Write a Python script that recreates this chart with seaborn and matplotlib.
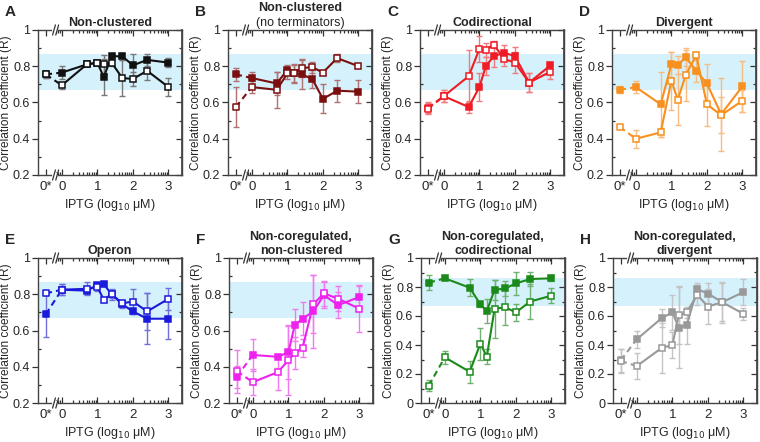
import numpy as np
import pandas as pd
import matplotlib
matplotlib.use("Agg")
import matplotlib.pyplot as plt
from matplotlib.ticker import FixedLocator, NullFormatter
import seaborn as sns

# x positions: first entry is the "0*" (no IPTG) point placed left of the axis break
x_pos = [-0.45, 0.0, 0.7, 1.0, 1.18, 1.4, 1.7, 2.0, 2.4, 3.0]
x_ticks = [-0.45, 0, 1, 2, 3]
x_ticklabels = ["0*", "0", "1", "2", "3"]

letters = ["A", "B", "C", "D", "E", "F", "G", "H"]
titles = ["Non-clustered", "Non-clustered", "Codirectional", "Divergent",
          "Operon", "Non-coregulated,\nnon-clustered", "Non-coregulated,\ncodirectional",
          "Non-coregulated,\ndivergent"]
subtitles = ["", "(no terminators)", "", "", "", "", "", ""]
colors = ["#111111", "#7a0f10", "#ee1c24", "#f7901e", "#1a1adb", "#ee22ee", "#1b8a1b", "#999999"]
err_colors = ["#777777", "#b07070", "#f27a7e", "#f8bb80", "#7070d8", "#f07af0", "#70b070", "#c4c4c4"]
y_bottoms = [0.2, 0.2, 0.2, 0.2, 0.2, 0.2, 0.0, 0.0]

filled = [
    [0.755, 0.765, 0.81, 0.82, 0.74, 0.855, 0.855, 0.805, 0.835, 0.82],
    [0.755, 0.735, 0.705, 0.78, 0.76, 0.755, 0.73, 0.62, 0.665, 0.66],
    [0.57, 0.635, 0.575, 0.685, 0.80, 0.855, 0.875, 0.855, 0.71, 0.805],
    [0.67, 0.685, 0.59, 0.81, 0.805, 0.85, 0.775, 0.705, 0.535, 0.69],
    [0.69, 0.825, 0.82, 0.85, 0.855, 0.80, 0.745, 0.705, 0.665, 0.665],
    [0.345, 0.465, 0.455, 0.48, 0.63, 0.665, 0.705, 0.795, 0.74, 0.785],
    [0.83, 0.86, 0.795, 0.68, 0.635, 0.78, 0.79, 0.825, 0.855, 0.86],
    [0.295, 0.44, 0.585, 0.625, 0.52, 0.535, 0.785, 0.755, 0.695, 0.765],
]
filled_err = [
    [0.02, 0.035, 0.01, 0.01, 0.1, 0.02, 0.02, 0.06, 0.035, 0.025],
    [0.035, 0.035, 0.065, 0.025, 0.045, 0.08, 0.05, 0.08, 0.06, 0.065],
    [0.03, 0.035, 0.035, 0.075, 0.05, 0.06, 0.04, 0.05, 0.05, 0.02],
    [0.02, 0.035, 0.18, 0.07, 0.05, 0.05, 0.06, 0.11, 0.2, 0.14],
    [0.125, 0.03, 0.015, 0.01, 0.01, 0.02, 0.02, 0.015, 0.14, 0.11],
    [0.06, 0.09, 0.01, 0.15, 0.09, 0.09, 0.2, 0.07, 0.07, 0.06],
    [0.05, 0.01, 0.06, 0.02, 0.08, 0.07, 0.05, 0.08, 0.05, 0.02],
    [0.08, 0.06, 0.06, 0.12, 0.28, 0.13, 0.04, 0.07, 0.13, 0.09],
]
open_vals = [
    [0.755, 0.695, 0.81, 0.82, 0.81, 0.82, 0.735, 0.73, 0.775, 0.685],
    [0.575, 0.685, 0.67, 0.76, 0.76, 0.79, 0.795, 0.765, 0.845, 0.80],
    [0.565, 0.635, 0.745, 0.895, 0.89, 0.92, 0.84, 0.82, 0.71, 0.77],
    [0.465, 0.40, 0.435, 0.72, 0.615, 0.75, 0.86, 0.59, 0.53, 0.61],
    [0.805, 0.825, 0.83, 0.84, 0.77, 0.80, 0.75, 0.76, 0.705, 0.775],
    [0.375, 0.315, 0.37, 0.435, 0.475, 0.505, 0.745, 0.805, 0.775, 0.72],
    [0.12, 0.315, 0.215, 0.41, 0.32, 0.65, 0.66, 0.625, 0.70, 0.74],
    [0.29, 0.255, 0.38, 0.40, 0.605, 0.625, 0.745, 0.665, 0.695, 0.615],
]
open_err = [
    [0.02, 0.02, 0.01, 0.01, 0.05, 0.02, 0.1, 0.04, 0.05, 0.05],
    [0.11, 0.035, 0.1, 0.03, 0.05, 0.05, 0.03, 0.01, 0.02, 0.01],
    [0.03, 0.035, 0.145, 0.07, 0.04, 0.02, 0.04, 0.06, 0.05, 0.04],
    [0.01, 0.05, 0.025, 0.16, 0.14, 0.14, 0.02, 0.12, 0.1, 0.06],
    [0.01, 0.03, 0.035, 0.02, 0.01, 0.03, 0.02, 0.07, 0.1, 0.06],
    [0.12, 0.07, 0.1, 0.19, 0.09, 0.05, 0.16, 0.07, 0.07, 0.13],
    [0.04, 0.045, 0.075, 0.11, 0.05, 0.2, 0.12, 0.06, 0.12, 0.05],
    [0.08, 0.09, 0.17, 0.09, 0.2, 0.04, 0.07, 0.12, 0.14, 0.04],
]
band = (0.67, 0.865)

sns.set_theme(style="ticks")
plt.rcParams["font.family"] = ["Liberation Sans", "DejaVu Sans"]

fig = plt.figure(figsize=(7.6, 4.42), dpi=100)
W, H = 760.0, 442.0
lefts = [38, 228, 420, 612, 38, 229, 421, 613]
tops = [30, 30, 30, 30, 258, 258, 258, 258]
ax_w, ax_h = 144, 145

minor_x = [np.log10(k) + d for d in (-1, 0, 1, 2) for k in range(2, 10)]
minor_x = [m for m in minor_x if -0.16 < m < 3.05]

for i in range(8):
    ax = fig.add_axes([lefts[i] / W, 1 - (tops[i] + ax_h) / H, ax_w / W, ax_h / H])
    c = colors[i]
    ec = err_colors[i]
    ax.axhspan(band[0], band[1], color="#d5f1fb", lw=0, zorder=0)

    for vals, errs, face in [(filled[i], filled_err[i], c), (open_vals[i], open_err[i], "white")]:
        df = pd.DataFrame({"x": x_pos, "y": vals, "e": errs})
        ax.errorbar(df["x"], df["y"], yerr=df["e"], fmt="none", ecolor=ec,
                    elinewidth=1.0, capsize=2, capthick=1.0, zorder=2)
        # dashed link across the axis break
        ax.plot(df["x"][:2], df["y"][:2], color=c, lw=1.5, ls=(0, (3, 2)), zorder=3)
        sns.lineplot(data=df.iloc[1:], x="x", y="y", ax=ax, color=c, lw=1.5,
                     marker="s", markersize=4.5, markerfacecolor=face,
                     markeredgecolor=c, markeredgewidth=1.1, zorder=4)
        sns.scatterplot(data=df.iloc[:1], x="x", y="y", ax=ax, marker="s", s=22,
                        facecolor=face, edgecolor=c, linewidth=1.1, zorder=4)

    ax.set_xlim(-0.67, 3.38)
    ax.set_ylim(y_bottoms[i], 1.0)
    ax.set_xticks(x_ticks)
    ax.set_xticklabels(x_ticklabels)
    ax.xaxis.set_minor_locator(FixedLocator(minor_x))
    if y_bottoms[i] == 0:
        yt = [0, 0.2, 0.4, 0.6, 0.8, 1]
        ylab = ["0", "0.2", "0.4", "0.6", "0.8", "1"]
        ymin = list(np.arange(0.1, 1.0, 0.2))
    else:
        yt = [0.2, 0.4, 0.6, 0.8, 1]
        ylab = ["0.2", "0.4", "0.6", "0.8", "1"]
        ymin = list(np.arange(0.3, 1.0, 0.2))
    ax.set_yticks(yt)
    ax.set_yticklabels(ylab)
    ax.yaxis.set_minor_locator(FixedLocator(ymin))

    ax.tick_params(axis="x", which="both", direction="in", top=True, bottom=True,
                   labelsize=9.5, color="#333333", width=0.9, pad=4)
    ax.tick_params(axis="y", which="major", direction="out", right=False,
                   labelsize=9, color="#333333", width=0.9, pad=1.5, length=4)
    ax.tick_params(axis="y", which="minor", direction="in", right=False,
                   color="#333333", width=0.9, length=2.5)
    ax.tick_params(axis="x", which="major", length=4)
    ax.tick_params(axis="x", which="minor", length=2.5)

    # inward ticks on the right side
    sec = ax.secondary_yaxis("right")
    sec.set_yticks(yt)
    sec.yaxis.set_minor_locator(FixedLocator(ymin))
    sec.yaxis.set_major_formatter(NullFormatter())
    sec.tick_params(which="both", direction="in", color="#333333", width=0.9)
    sec.tick_params(which="major", length=4)
    sec.tick_params(which="minor", length=2.5)
    sec.spines["right"].set_color("#444444")

    for s in ax.spines.values():
        s.set_color("#444444")
        s.set_linewidth(1.0)
    ax.set_xlabel("IPTG (log$_{10}$ \u03bcM)", fontsize=9, labelpad=3)
    ax.set_ylabel("Correlation coefficient (R)", fontsize=8.6, labelpad=1)

    # axis-break marks
    for yb in (0, 1):
        ax.plot([-0.22, -0.17], [yb, yb], transform=ax.get_xaxis_transform(),
                color="white", lw=3, clip_on=False, zorder=6)
        for dx in (-0.26, -0.17):
            ax.plot([dx, dx + 0.08], [yb - 0.035, yb + 0.035],
                    transform=ax.get_xaxis_transform(), color="#333333",
                    lw=0.9, clip_on=False, zorder=7)

    if subtitles[i]:
        ax.text(0.5, 1.11, titles[i], transform=ax.transAxes, ha="center",
                va="bottom", fontsize=9, fontweight="bold")
        ax.text(0.5, 1.01, subtitles[i], transform=ax.transAxes, ha="center",
                va="bottom", fontsize=9)
    else:
        ax.set_title(titles[i], fontsize=9, fontweight="bold", pad=3, linespacing=1.15)

    fig.text((lefts[i] - 33) / W, 1 - (tops[i] - 18) / H, letters[i],
             fontsize=11, fontweight="bold", va="center", ha="left")

fig.savefig("out.png", dpi=100)
